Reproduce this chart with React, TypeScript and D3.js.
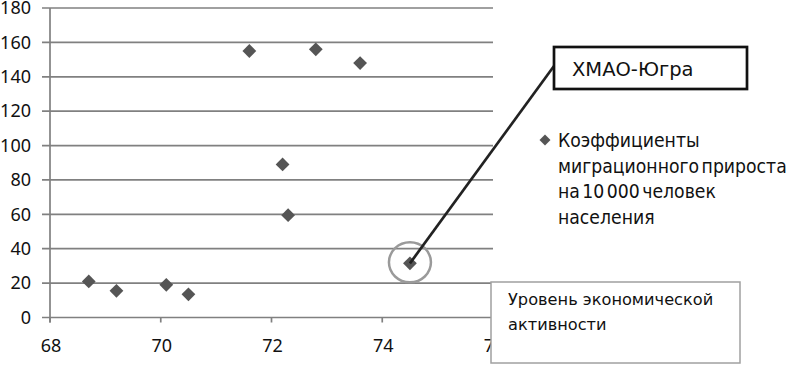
import React from 'react'
import * as d3 from 'd3'

// economic activity level (x) vs migration growth per 10 000 people (y)
const activity = [68.7, 69.2, 70.1, 70.5, 71.6, 72.2, 72.3, 72.8, 73.6, 74.5]
const migration = [21, 15.5, 19, 13.5, 155, 89, 59.5, 156, 148, 31.5]
const highlight = 9 // ХМАО-Югра

const xTicks = [68, 70, 72, 74, 76]
const yTicks = [0, 20, 40, 60, 80, 100, 120, 140, 160, 180]

const calloutLabel = 'ХМАО-Югра'
const legendLines = ['Коэффициенты', 'миграционного прироста', 'на 10 000 человек', 'населения']
const axisTitleLines = ['Уровень экономической', 'активности']

const W = 796
const H = 365
const axisFont = '"Noto Sans", sans-serif'
const textFont = '"DejaVu Sans", sans-serif'
const legendFont = '"DejaVu Sans Condensed", "DejaVu Sans", sans-serif'
const grid = '#808080'
const markColor = '#555555'

export default function App() {
	const x = d3.scaleLinear().domain([68, 76]).range([50, 493])
	const y = d3.scaleLinear().domain([0, 180]).range([317.5, 8])

	const diamond = d3.symbol().type(d3.symbolSquare).size(95)()
	const legendDiamond = d3.symbol().type(d3.symbolSquare).size(60)()

	const hx = x(activity[highlight])
	const hy = y(migration[highlight])

	return (
		<div style={{ position: 'fixed', left: 0, top: 0 }}>
			<svg width={W} height={H} style={{ display: 'block', background: '#fff' }}>
				{/* horizontal grid + y ticks */}
				{yTicks.map((t) => (
					<g key={t}>
						<line x1={42} x2={493} y1={y(t)} y2={y(t)} stroke={grid} strokeWidth={1.7} />
						<text
							x={31}
							y={y(t)}
							dy="0.35em"
							textAnchor="end"
							fontFamily={axisFont}
							fontSize={18}
							fill="#111"
						>
							{t}
						</text>
					</g>
				))}
				{/* y axis */}
				<line x1={50} x2={50} y1={y(180)} y2={y(0) + 5} stroke={grid} strokeWidth={1.7} />
				{/* x ticks */}
				{xTicks.map((t) => (
					<g key={t}>
						<line x1={x(t)} x2={x(t)} y1={y(0)} y2={y(0) + 5} stroke={grid} strokeWidth={1.7} />
						<text
							x={x(t) + 1}
							y={346}
							dy="0.35em"
							textAnchor="middle"
							fontFamily={axisFont}
							fontSize={18}
							fill="#111"
						>
							{t}
						</text>
					</g>
				))}

				{/* points */}
				{activity.map((a, i) => (
					<path
						key={i}
						d={diamond}
						transform={`translate(${x(a)},${y(migration[i])}) rotate(45)`}
						fill={markColor}
					/>
				))}

				{/* highlight circle and callout */}
				<ellipse cx={hx} cy={hy - 1} rx={21} ry={20} fill="none" stroke="#9a9a9a" strokeWidth={2.5} />
				<line x1={hx} y1={hy} x2={554} y2={66} stroke="#222" strokeWidth={2.7} />
				<rect x={554} y={47} width={193} height={42} fill="#fff" stroke="#111" strokeWidth={2.7} />
				<text x={572} y={76} fontFamily={textFont} fontSize={19.5} fill="#111">
					{calloutLabel}
				</text>

				{/* legend */}
				<path d={legendDiamond} transform="translate(545,140) rotate(45)" fill={markColor} />
				{legendLines.map((l, i) => (
					<text
						key={i}
						x={558}
						y={147 + i * 25.7}
						fontFamily={legendFont}
						fontSize={19.2}
						wordSpacing={-3}
						fill="#111"
					>
						{l}
					</text>
				))}

				{/* x axis title box */}
				<rect x={491} y={282} width={249} height={81} fill="#fff" stroke="#a0a0a0" strokeWidth={1.5} />
				{axisTitleLines.map((l, i) => (
					<text key={i} x={508} y={305 + i * 25} fontFamily={textFont} fontSize={16.2} fill="#111">
						{l}
					</text>
				))}
			</svg>
		</div>
	)
}
